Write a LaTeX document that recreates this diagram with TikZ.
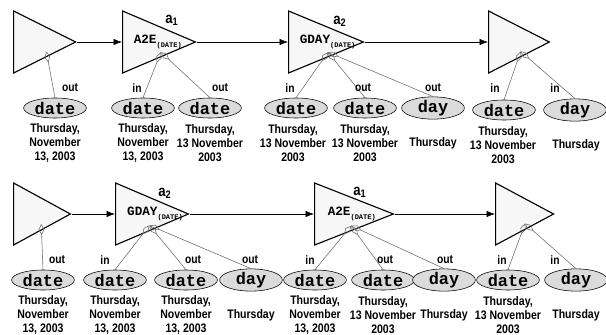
\documentclass[tikz,border=0pt]{standalone}
\usepackage{fontspec}
\setmainfont{Liberation Sans}
\newfontfamily\narrowsf[FakeStretch=0.85]{Liberation Sans}
\newfontfamily\codefont{Liberation Mono}
\usetikzlibrary{arrows.meta, positioning, shapes.geometric, calc}

\begin{document}
\begin{tikzpicture}[
    x=0.025cm, y=-0.025cm,
    func/.style={draw, thick, fill=gray!6, isosceles triangle, isosceles triangle stretches, inner sep=0pt, anchor=west, minimum width=1.55cm},
    param/.style={draw, fill=gray!28, ellipse, minimum width=1.57cm, minimum height=0.5cm, inner sep=0pt, font=\codefont\bfseries\fontsize{12}{12}\selectfont},
    value/.style={align=center, font=\narrowsf\bfseries\fontsize{8.8}{10}\selectfont},
    port/.style={font=\narrowsf\bfseries\fontsize{8.6}{8.6}\selectfont},
    fname/.style={anchor=west, font=\codefont\bfseries\fontsize{9}{9}\selectfont},
    tag/.style={font=\narrowsf\bfseries\fontsize{11}{11}\selectfont},
    link/.style={-{Latex[length=6pt, width=4.5pt]}},
    wire/.style={gray!85!black, {Diamond[open, length=8pt, width=4pt]}-}
]
\useasboundingbox (0,0) rectangle (606,335);

% upper chain
\node[func, minimum height=1.55cm] (t1) at (13,42) {};
\node[func, minimum height=1.82cm] (t2) at (122,42) {};
\node[func, minimum height=1.87cm] (t3) at (288,42) {};
\node[func, minimum height=1.52cm] (t4) at (488,42) {};
\node[fname] (n2) at ([xshift=0.17cm]t2.west) {A2E\raisebox{-2.5pt}{\fontsize{5}{5}\selectfont(DATE)}};
\node[fname] (n3) at ([xshift=0.17cm]t3.west) {GDAY\raisebox{-2.5pt}{\fontsize{5}{5}\selectfont(DATE)}};
\node[tag] (a1) at (172,20) {a\textsubscript{1}};
\node[tag] (a2) at (340,21) {a\textsubscript{2}};
\draw[link] (t1.east) -- (t2.west);
\draw[link] (t2.east) -- (t3.west);
\draw[link] (t3.east) -- (t4.west);

\node[param] (e1) at (55,108) {date};
\node[param] (e2) at (143,108) {date};
\node[param] (e3) at (210,108) {date};
\node[param] (e4) at (296,108) {date};
\node[param] (e5) at (365,108) {date};
\node[param] (e6) at (433,108) {day};
\node[param] (e7) at (504,110) {date};
\node[param] (e8) at (575,110) {day};

\coordinate (p1) at ($(t1.south west)!0.52!(t1.east)$);
\coordinate (p2) at ($(t2.south west)!0.52!(t2.east)$);
\coordinate (p3) at ($(t3.south west)!0.52!(t3.east)$);
\coordinate (p4) at ($(t4.south west)!0.52!(t4.east)$);
\draw[wire] (p1) -- (e1.north);
\draw[wire] (p2) -- (e2.north);
\draw[wire] (p2) -- (e3.north);
\draw[wire] (p3) -- (e4.north);
\draw[wire] (p3) -- (e5.north);
\draw[wire] (p3) -- (e6.north);
\draw[wire] (p4) -- (e7.north);
\draw[wire] (p4) -- (e8.north);

\node[port] (o1) at (70,88) {out};
\node[port] (i2) at (137,88) {in};
\node[port] (o3) at (220,88) {out};
\node[port] (i4) at (290,88) {in};
\node[port] (o5) at (363,88) {out};
\node[port] (o6) at (433,88) {out};
\node[port] (i7) at (495,88) {in};
\node[port] (i8) at (555,88) {in};

\node[value] (v1) at (55,143) {Thursday,\\November\\13, 2003};
\node[value] (v2) at (143,143) {Thursday,\\November\\13, 2003};
\node[value] (v3) at (210,143) {Thursday,\\13 November\\2003};
\node[value] (v4) at (293,143) {Thursday,\\13 November\\2003};
\node[value] (v5) at (365,143) {Thursday,\\13 November\\2003};
\node[value] (v6) at (433,143) {Thursday};
\node[value] (v7) at (503,145) {Thursday,\\13 November\\2003};
\node[value] (v8) at (576,145) {Thursday};

% lower chain
\node[func, minimum height=1.42cm] (b1) at (13,214) {};
\node[func, minimum height=1.82cm] (b2) at (115,214) {};
\node[func, minimum height=1.97cm] (b3) at (314,214) {};
\node[func, minimum height=1.45cm] (b4) at (495,214) {};
\node[fname] (m2) at ([xshift=0.18cm]b2.west) {GDAY\raisebox{-2.5pt}{\fontsize{5}{5}\selectfont(DATE)}};
\node[fname] (m3) at ([xshift=0.22cm]b3.west) {A2E\raisebox{-2.5pt}{\fontsize{5}{5}\selectfont(DATE)}};
\node[tag] (c2) at (165,193) {a\textsubscript{2}};
\node[tag] (c1) at (360,192) {a\textsubscript{1}};
\draw[link] (b1.east) -- (b2.west);
\draw[link] (b2.east) -- (b3.west);
\draw[link] (b3.east) -- (b4.west);

\node[param] (f1) at (43,280) {date};
\node[param] (f2) at (115,280) {date};
\node[param] (f3) at (186,280) {date};
\node[param] (f4) at (251,280) {day};
\node[param] (f5) at (315,280) {date};
\node[param] (f6) at (383,280) {date};
\node[param] (f7) at (444,280) {day};
\node[param] (f8) at (508,280) {date};
\node[param] (f9) at (576,280) {day};

\coordinate (q1) at ($(b1.south west)!0.48!(b1.east)$);
\coordinate (q2) at ($(b2.south west)!0.46!(b2.east)$);
\coordinate (q3) at ($(b3.south west)!0.46!(b3.east)$);
\coordinate (q4) at ($(b4.south west)!0.5!(b4.east)$);
\draw[wire] (q1) -- (f1.north);
\draw[wire] (q2) -- (f2.north);
\draw[wire] (q2) -- (f3.north);
\draw[wire] (q2) -- (f4.north);
\draw[wire] (q3) -- (f5.north);
\draw[wire] (q3) -- (f6.north);
\draw[wire] (q3) -- (f7.north);
\draw[wire] (q4) -- (f8.north);
\draw[wire] (q4) -- (f9.north);

\node[port] (o11) at (57,260) {out};
\node[port] (i12) at (105,260) {in};
\node[port] (o13) at (193,260) {out};
\node[port] (o14) at (250,260) {out};
\node[port] (i15) at (310,260) {in};
\node[port] (o16) at (385,260) {out};
\node[port] (o17) at (445,260) {out};
\node[port] (i18) at (502,260) {in};
\node[port] (i19) at (555,260) {in};

\node[value] (w1) at (43,315) {Thursday,\\November\\13, 2003};
\node[value] (w2) at (115,315) {Thursday,\\November\\13, 2003};
\node[value] (w3) at (186,315) {Thursday,\\November\\13, 2003};
\node[value] (w4) at (251,315) {Thursday};
\node[value] (w5) at (315,315) {Thursday,\\November\\13, 2003};
\node[value] (w6) at (383,315) {Thursday,\\13 November\\2003};
\node[value] (w7) at (444,315) {Thursday};
\node[value] (w8) at (508,315) {Thursday,\\13 November\\2003};
\node[value] (w9) at (576,315) {Thursday};
\end{tikzpicture}
\end{document}
